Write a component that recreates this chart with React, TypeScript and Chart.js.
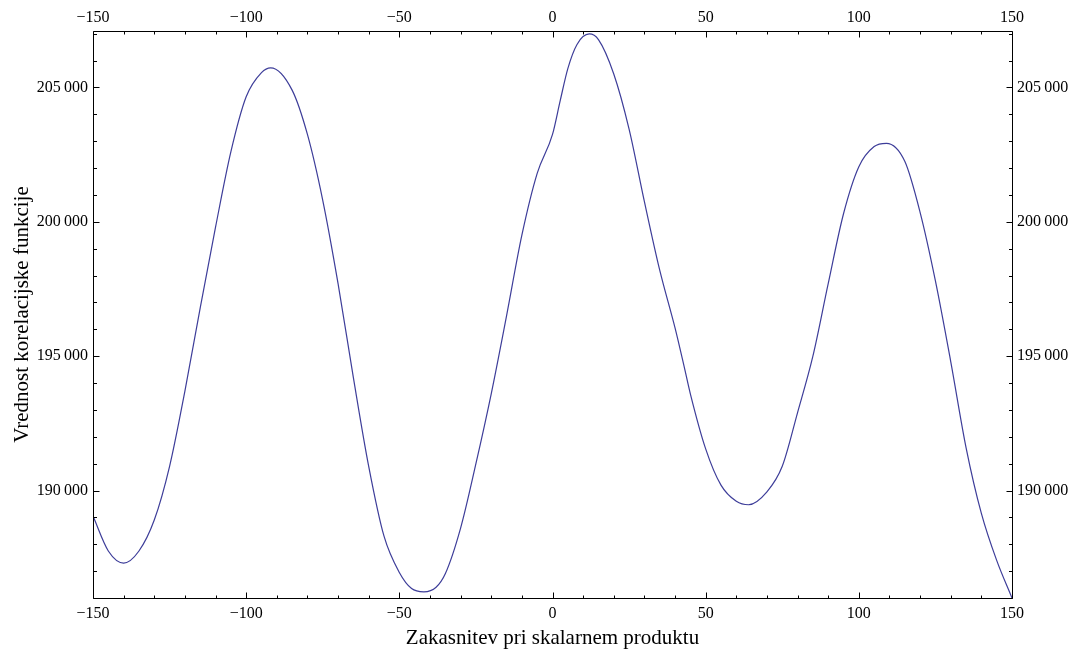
import React, { useEffect, useRef } from 'react';
import { Chart, registerables } from 'chart.js';

Chart.register(...registerables);

// Lag values (x) and correlation function values (y)
const lagValues = [
  -150, -145, -140, -135, -130, -125, -120, -115, -110, -105, -100, -95, -92,
  -85, -80, -75, -70, -65, -60, -55, -50, -46, -42, -38, -35, -30, -25, -20, -15,
  -10, -5, 0, 2.5, 5, 8, 12, 15, 20, 25, 30, 35, 40, 43, 45, 50, 55, 60, 64, 70,
  75, 80, 85, 90, 95, 100, 105, 109, 115, 120, 125, 130, 135, 140, 145, 150,
];
const correlationValues = [
  189050, 187750, 187300, 187750, 188900, 190900, 193700, 196800, 199800, 202600,
  204650, 205550, 205730, 204900, 203250, 200800, 197700, 194200, 190900,
  188300, 186950, 186350, 186230, 186400, 186900, 188600, 191000, 193600, 196500,
  199500, 201800, 203250, 204500, 205700, 206600, 206990, 206780, 205500, 203450,
  200750, 198200, 196050, 194600, 193600, 191550, 190200, 189600, 189470, 189950,
  190900, 192900, 195000, 197700, 200300, 202050, 202800, 202920, 202250, 200350,
  197800, 194800, 191600, 189150, 187400, 186000,
];

const xTickValues = [-150, -100, -50, 0, 50, 100, 150];
const yTickValues = [190000, 195000, 200000, 205000];
const xRange = [-150, 150];
const yRange = [186000, 207100];
const xMinorStep = 10;
const yMinorStep = 1000;
const xTitle = 'Zakasnitev pri skalarnem produktu';
const yTitle = 'Vrednost korelacijske funkcije';

const FONT = "'Liberation Serif', 'Times New Roman', serif";

const fmtX = (v: number) => (v < 0 ? '\u2212' + Math.abs(v) : String(v));
const fmtY = (v: number) => {
  const s = String(Math.round(v));
  return s.slice(0, s.length - 3) + '\u2009' + s.slice(s.length - 3);
};

const framePlugin = {
  id: 'mmaFrame',
  afterDraw(chart: any) {
    const { ctx, chartArea } = chart;
    const { left, right, top, bottom } = chartArea;
    const sx = chart.scales.x;
    const sy = chart.scales.y;
    ctx.save();
    ctx.strokeStyle = '#000';
    ctx.lineWidth = 1;
    ctx.beginPath();
    const L = left + 0.5, R = right + 0.5, T = top + 0.5, B = bottom + 0.5;
    ctx.moveTo(L, T); ctx.lineTo(R, T); ctx.lineTo(R, B); ctx.lineTo(L, B); ctx.closePath();
    ctx.stroke();
    ctx.beginPath();
    for (let v = xRange[0]; v <= xRange[1] + 1e-9; v += xMinorStep) {
      const major = xTickValues.includes(v);
      const len = major ? 6 : 3;
      const px = Math.round(sx.getPixelForValue(v)) + 0.5;
      ctx.moveTo(px, B); ctx.lineTo(px, B - len);
      ctx.moveTo(px, T); ctx.lineTo(px, T + len);
    }
    const yStart = Math.ceil(yRange[0] / yMinorStep) * yMinorStep;
    for (let v = yStart; v <= yRange[1]; v += yMinorStep) {
      const major = yTickValues.includes(v);
      const len = major ? 6 : 3.5;
      const py = Math.round(sy.getPixelForValue(v)) + 0.5;
      ctx.moveTo(L, py); ctx.lineTo(L + len, py);
      ctx.moveTo(R, py); ctx.lineTo(R - len, py);
    }
    ctx.stroke();
    ctx.restore();
  },
};

export default function App() {
  const ref = useRef<HTMLCanvasElement | null>(null);
  useEffect(() => {
    if (!ref.current) return;
    const tickFont = { family: FONT, size: 16 };
    const noGrid = { display: false, drawTicks: false };
    const chart = new Chart(ref.current, {
      type: 'line',
      data: {
        datasets: [
          {
            data: lagValues.map((x, i) => ({ x, y: correlationValues[i] })),
            borderColor: '#3d3d99',
            borderWidth: 1.2,
            pointRadius: 0,
            fill: false,
            cubicInterpolationMode: 'monotone',
          },
        ],
      },
      options: {
        responsive: false,
        animation: false,
        layout: { padding: 0 },
        plugins: { legend: { display: false }, tooltip: { enabled: false } },
        scales: {
          x: {
            type: 'linear',
            position: 'bottom',
            min: xRange[0],
            max: xRange[1],
            afterBuildTicks: (s: any) => { s.ticks = xTickValues.map((value) => ({ value })); },
            afterFit: (s: any) => { s.height = 56; },
            grid: noGrid,
            border: { display: false },
            ticks: { padding: 6, font: tickFont, color: '#000', maxRotation: 0, autoSkip: false, callback: (v: any) => fmtX(Number(v)) },
            title: { display: true, text: xTitle, color: '#000', font: { family: FONT, size: 21, lineHeight: 1 }, padding: { top: 0, bottom: 5 } },
          },
          x2: {
            type: 'linear',
            axis: 'x',
            position: 'top',
            min: xRange[0],
            max: xRange[1],
            afterBuildTicks: (s: any) => { s.ticks = xTickValues.map((value) => ({ value })); },
            afterFit: (s: any) => { s.height = 31; },
            grid: noGrid,
            border: { display: false },
            ticks: { padding: 4, font: tickFont, color: '#000', maxRotation: 0, autoSkip: false, callback: (v: any) => fmtX(Number(v)) },
          },
          y: {
            type: 'linear',
            position: 'left',
            min: yRange[0],
            max: yRange[1],
            afterBuildTicks: (s: any) => { s.ticks = yTickValues.map((value) => ({ value })); },
            afterFit: (s: any) => { s.width = 93; },
            grid: noGrid,
            border: { display: false },
            ticks: { padding: 5, font: tickFont, color: '#000', autoSkip: false, callback: (v: any) => fmtY(Number(v)) },
            title: { display: true, text: yTitle, color: '#000', font: { family: FONT, size: 21, lineHeight: 1 }, padding: { top: 12, bottom: 0 } },
          },
          y2: {
            type: 'linear',
            axis: 'y',
            position: 'right',
            min: yRange[0],
            max: yRange[1],
            afterBuildTicks: (s: any) => { s.ticks = yTickValues.map((value) => ({ value })); },
            afterFit: (s: any) => { s.width = 61; },
            grid: noGrid,
            border: { display: false },
            ticks: { padding: 5, font: tickFont, color: '#000', autoSkip: false, callback: (v: any) => fmtY(Number(v)) },
          },
        },
      },
      plugins: [framePlugin],
    } as any);
    return () => chart.destroy();
  }, []);
  return (
    <div style={{ position: 'absolute', left: 0, top: 0, width: 1073, height: 654, background: '#fff' }}>
      <canvas ref={ref} width={1073} height={654} style={{ display: 'block', width: 1073, height: 654 }} />
    </div>
  );
}
